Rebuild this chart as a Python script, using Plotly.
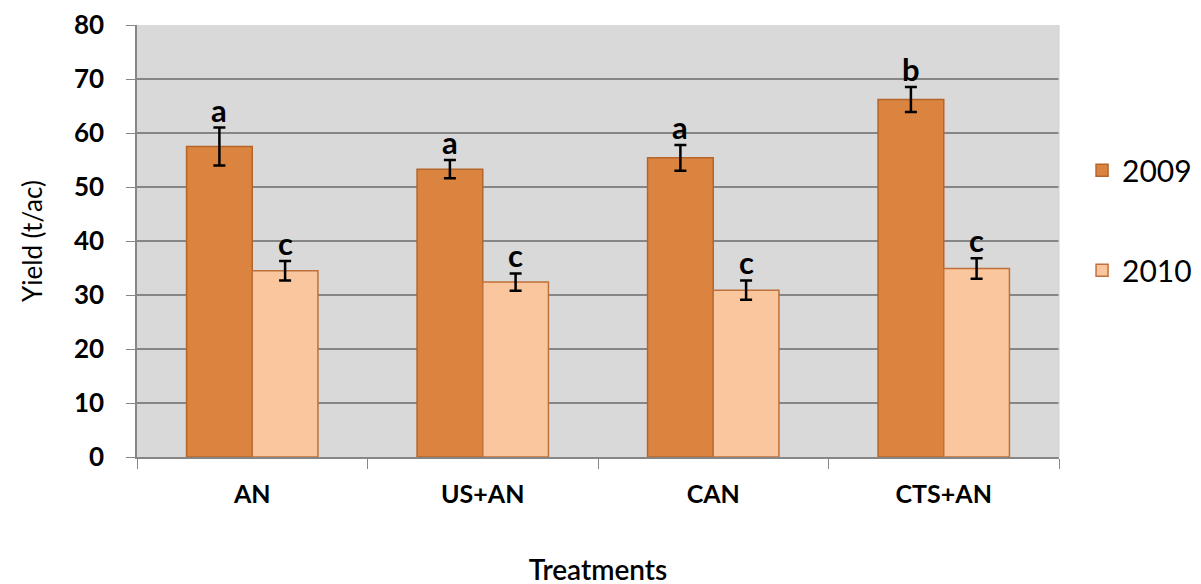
import plotly.graph_objects as go

categories = ["AN", "US+AN", "CAN", "CTS+AN"]
y2009 = [57.5, 53.3, 55.4, 66.2]
err2009 = [3.5, 1.7, 2.4, 2.3]
y2010 = [34.5, 32.4, 30.9, 34.9]
err2010 = [1.8, 1.6, 1.8, 1.9]
letters2009 = ["a", "a", "a", "b"]
letters2010 = ["c", "c", "c", "c"]

FONT = "Lato"
fig = go.Figure()
fig.add_trace(go.Bar(
    x=categories, y=y2009, name="2009", legendgroup="g1",
    marker=dict(color="#db843f", line=dict(color="#b5652a", width=1.5)),
    error_y=dict(type="data", array=err2009, color="black", thickness=2.5, width=6),
))
fig.add_trace(go.Bar(
    x=categories, y=y2010, name="2010", legendgroup="g2",
    marker=dict(color="#f9c69d", line=dict(color="#c0703a", width=1.5)),
    error_y=dict(type="data", array=err2010, color="black", thickness=2.5, width=6),
))

ann = []
for i, c in enumerate(categories):
    ann.append(dict(x=c, y=y2009[i] + err2009[i], text=letters2009[i], xref="x", yref="y",
                    xshift=-33, yanchor="bottom", showarrow=False, yshift=-3,
                    font=dict(family=FONT, size=31, color="black", weight="bold")))
    ann.append(dict(x=c, y=y2010[i] + err2010[i], text=letters2010[i], xref="x", yref="y",
                    xshift=33, yanchor="bottom", showarrow=False, yshift=-3,
                    font=dict(family=FONT, size=31, color="black", weight="bold")))

fig.update_layout(
    width=1201, height=584,
    margin=dict(l=129, r=148, t=17, b=135),
    paper_bgcolor="white", plot_bgcolor="#d9d9d9",
    barmode="group", bargap=0.43, bargroupgap=0,
    font=dict(family=FONT, color="black"),
    annotations=ann,
    legend=dict(x=1.025, y=0.724, xanchor="left", yanchor="top",
                font=dict(family=FONT, size=30), tracegroupgap=58,
                itemwidth=30, bgcolor="rgba(0,0,0,0)"),
    showlegend=True,
)
fig.update_yaxes(range=[0, 80], dtick=10, showgrid=True, gridcolor="#868686", gridwidth=1.5,
                 showline=True, linecolor="#868686", linewidth=1.5, automargin=False,
                 ticks="outside", ticklen=9, tickcolor="#868686", ticklabelstandoff=17,
                 tickfont=dict(family=FONT, size=26, weight="bold"),
                 title=dict(text="Yield (t/ac)", font=dict(family=FONT, size=26), standoff=24),
                 zeroline=False)
fig.update_xaxes(showline=True, linecolor="#868686", linewidth=1.5, automargin=False,
                 ticks="outside", ticklen=10, tickcolor="#868686", tickson="boundaries",
                 ticklabelstandoff=14,
                 tickfont=dict(family=FONT, size=25, weight="bold"),
                 title=dict(text="Treatments", font=dict(family=FONT, size=28, weight=600), standoff=54),
                 mirror=False)
fig.add_shape(type="line", xref="paper", yref="paper", x0=1, x1=1, y0=0, y1=1,
              line=dict(color="#d0d0d0", width=1))

fig.write_html("out.html")
